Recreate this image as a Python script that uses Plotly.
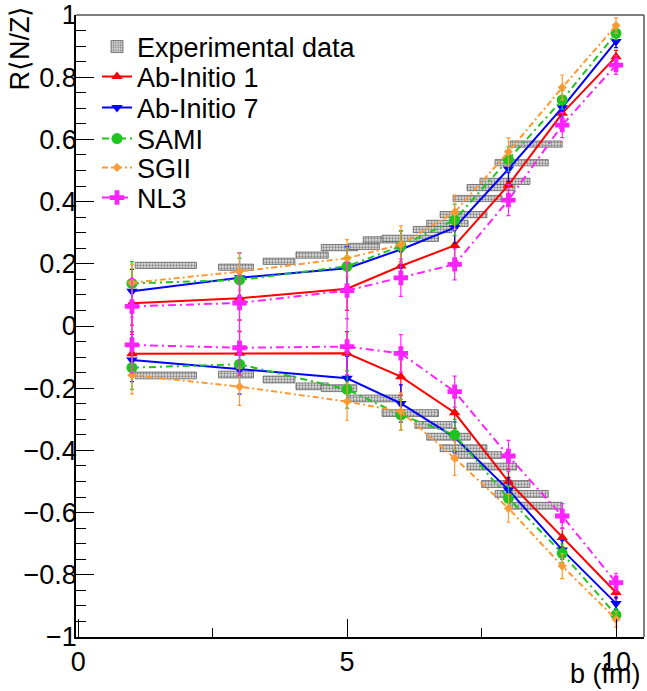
import plotly.graph_objects as go

# ---------------- data ----------------
b = [1, 3, 5, 6, 7, 8, 9, 10]

ai1_up = [0.073, 0.089, 0.120, 0.193, 0.259, 0.453, 0.684, 0.866]
ai1_low = [-0.089, -0.088, -0.088, -0.163, -0.279, -0.500, -0.680, -0.857]
ai1_err = [0.07, 0.07, 0.07, 0.06, 0.05, 0.04, 0.03, 0.02]

ai7_up = [0.112, 0.155, 0.186, 0.246, 0.316, 0.505, 0.702, 0.915]
ai7_low = [-0.109, -0.139, -0.168, -0.249, -0.358, -0.527, -0.720, -0.892]
ai7_err = [0.07, 0.08, 0.07, 0.06, 0.05, 0.04, 0.03, 0.02]

sami_up = [0.137, 0.148, 0.192, 0.257, 0.341, 0.536, 0.727, 0.941]
sami_low = [-0.134, -0.123, -0.204, -0.286, -0.350, -0.554, -0.731, -0.929]
sami_err = [0.07, 0.07, 0.06, 0.05, 0.05, 0.04, 0.03, 0.02]

sgii_up = [0.139, 0.175, 0.218, 0.262, 0.366, 0.560, 0.767, 0.966]
sgii_low = [-0.158, -0.195, -0.243, -0.275, -0.425, -0.586, -0.772, -0.943]
sgii_err = [0.06, 0.06, 0.06, 0.06, 0.055, 0.045, 0.04, 0.025]

nl3_up = [0.063, 0.074, 0.114, 0.155, 0.198, 0.405, 0.646, 0.839]
nl3_low = [-0.061, -0.070, -0.066, -0.088, -0.211, -0.418, -0.611, -0.825]
nl3_err = [0.09, 0.09, 0.09, 0.06, 0.05, 0.05, 0.04, 0.03]

# experimental data boxes (b range, value, half-height)
exp_up_blo = [1.06, 2.61, 3.44, 4.05, 4.52, 5.03, 5.30, 5.65, 6.23, 6.48, 6.73, 6.97, 7.23, 7.47, 7.75, 8.03]
exp_up_bhi = [2.20, 3.26, 4.03, 4.65, 5.20, 5.60, 5.99, 6.70, 6.95, 7.25, 7.60, 7.88, 8.12, 8.40, 8.74, 9.00]
exp_up_val = [0.195, 0.189, 0.208, 0.228, 0.252, 0.256, 0.277, 0.282, 0.310, 0.330, 0.358, 0.410, 0.445, 0.465, 0.525, 0.585]
exp_up_err = [0.010] * len(exp_up_val)

exp_low_blo = [1.06, 2.61, 3.44, 4.05, 4.52, 5.03, 5.65, 6.26, 6.48, 6.73, 7.00, 7.23, 7.50, 7.75, 8.03]
exp_low_bhi = [2.20, 3.26, 4.03, 4.65, 5.18, 6.00, 6.70, 6.95, 7.29, 7.60, 7.87, 8.15, 8.40, 8.74, 9.00]
exp_low_val = [-0.159, -0.156, -0.172, -0.194, -0.200, -0.233, -0.280, -0.318, -0.356, -0.393, -0.415, -0.452, -0.508, -0.540, -0.578]
exp_low_err = [0.011] * len(exp_low_val)

y_ticks = [-1, -0.8, -0.6, -0.4, -0.2, 0, 0.2, 0.4, 0.6, 0.8, 1]
x_ticks = [0, 5, 10]

# ---------------- figure ----------------
W, H = 647, 691
ML, MR, MT, MB = 76, 3, 15, 54
PW, PH = W - ML - MR, H - MT - MB
FONT = "Liberation Sans, Arial, Helvetica, sans-serif"
FS = 27

def py2paper(py):
    return 1 - (py - MT) / PH

def px2paper(px):
    return (px - ML) / PW

fig = go.Figure()

# experimental boxes
blo = exp_up_blo + exp_low_blo
bhi = exp_up_bhi + exp_low_bhi
val = exp_up_val + exp_low_val
err = exp_up_err + exp_low_err
fig.add_trace(go.Bar(
    x=[(l + h) / 2 for l, h in zip(blo, bhi)],
    width=[h - l for l, h in zip(blo, bhi)],
    base=[v - e for v, e in zip(val, err)],
    y=[2 * e for e in err],
    name="Experimental data",
    marker=dict(color="#d9d9d9",
                line=dict(color="#555555", width=0.7),
                pattern=dict(shape=".", fgcolor="#2a2a2a", bgcolor="#dedede",
                             size=3, solidity=0.45)),
    legend="legend",
    hoverinfo="skip",
))

series = [
    ("Ab-Initio 1", ai1_up, ai1_low, ai1_err, "#ff0000", "solid", "triangle-up", 10, "legend2"),
    ("Ab-Initio 7", ai7_up, ai7_low, ai7_err, "#0000ff", "solid", "triangle-down", 10, "legend3"),
    ("SAMI", sami_up, sami_low, sami_err, "#1fc41f", "7px,4px,2px,4px", "circle", 11, "legend4"),
    ("SGII", sgii_up, sgii_low, sgii_err, "#ff9933", "6px,3px,2px,3px", "diamond", 7, "legend5"),
    ("NL3", nl3_up, nl3_low, nl3_err, "#ff22ff", "8px,4px,2px,4px", "cross", 12, "legend6"),
]

for name, up, low, e, col, dash, sym, ms, leg in series:
    fig.add_trace(go.Scatter(
        x=b + [None] + b,
        y=up + [None] + low,
        mode="lines+markers",
        name=name,
        line=dict(color=col, width=2, dash=dash),
        marker=dict(symbol=sym, size=ms, color=col, line=dict(width=0)),
        error_y=dict(type="data", array=e + [0] + e, color=col,
                     thickness=1.2, width=2, visible=True),
        connectgaps=False,
        legend=leg,
        hoverinfo="skip",
    ))

legend_centers = [47, 77, 108, 139, 168, 198]
legend_common = dict(
    x=px2paper(97), xanchor="left", yanchor="middle",
    bgcolor="rgba(0,0,0,0)", borderwidth=0,
    font=dict(family=FONT, size=FS, color="black"),
    itemwidth=30,
)
layout_legends = {}
for i, cy in enumerate(legend_centers):
    key = "legend" if i == 0 else f"legend{i + 1}"
    layout_legends[key] = dict(legend_common, y=py2paper(cy))

axis_font = dict(family=FONT, size=FS, color="black")

fig.update_layout(
    width=W, height=H,
    margin=dict(l=ML, r=MR, t=MT, b=MB, autoexpand=False),
    paper_bgcolor="white", plot_bgcolor="white",
    barmode="overlay",
    showlegend=True,
    font=dict(family=FONT, size=FS, color="black"),
    xaxis=dict(
        range=[-0.04, 10.52], tickvals=x_ticks, ticktext=[str(t) for t in x_ticks],
        ticks="inside", ticklen=18, tickwidth=1, tickcolor="black",
        minor=dict(tickvals=[2.5, 7.5], ticks="inside", ticklen=9, tickcolor="black", tickwidth=1),
        showline=True, linecolor="black", linewidth=1.5,
        showgrid=False, zeroline=False, tickfont=axis_font, automargin=False,
    ),
    yaxis=dict(
        range=[-1, 1], tickvals=y_ticks,
        ticks="inside", ticklen=18, tickwidth=1, tickcolor="black",
        minor=dict(dtick=0.05, ticks="inside", ticklen=10, tickcolor="black", tickwidth=1),
        showline=True, linecolor="black", linewidth=1.5,
        showgrid=False, zeroline=False, tickfont=axis_font, automargin=False,
        ticklabelstandoff=-8,
    ),
    **layout_legends,
)

# frame (top and right)
fig.add_shape(type="line", xref="paper", yref="paper", x0=0, x1=1, y0=1, y1=1,
              line=dict(color="#555555", width=1.5))
fig.add_shape(type="line", xref="paper", yref="paper", x0=1, x1=1, y0=0, y1=1,
              line=dict(color="#555555", width=1.5))

# axis titles (ROOT style: aligned to the end of the axis)
fig.add_annotation(text="b (fm)", xref="paper", yref="paper",
                   x=px2paper(643), y=py2paper(657), xanchor="right", yanchor="top",
                   showarrow=False, font=axis_font)
fig.add_annotation(text="R⟨N/Z⟩", xref="paper", yref="paper",
                   x=px2paper(19), y=py2paper(4), xanchor="center", yanchor="top",
                   textangle=-90, showarrow=False, font=axis_font)

fig.write_html(
    "out.html",
    config={"displayModeBar": False},
    post_script="document.body.style.margin='0';document.body.style.padding='0';",
)
